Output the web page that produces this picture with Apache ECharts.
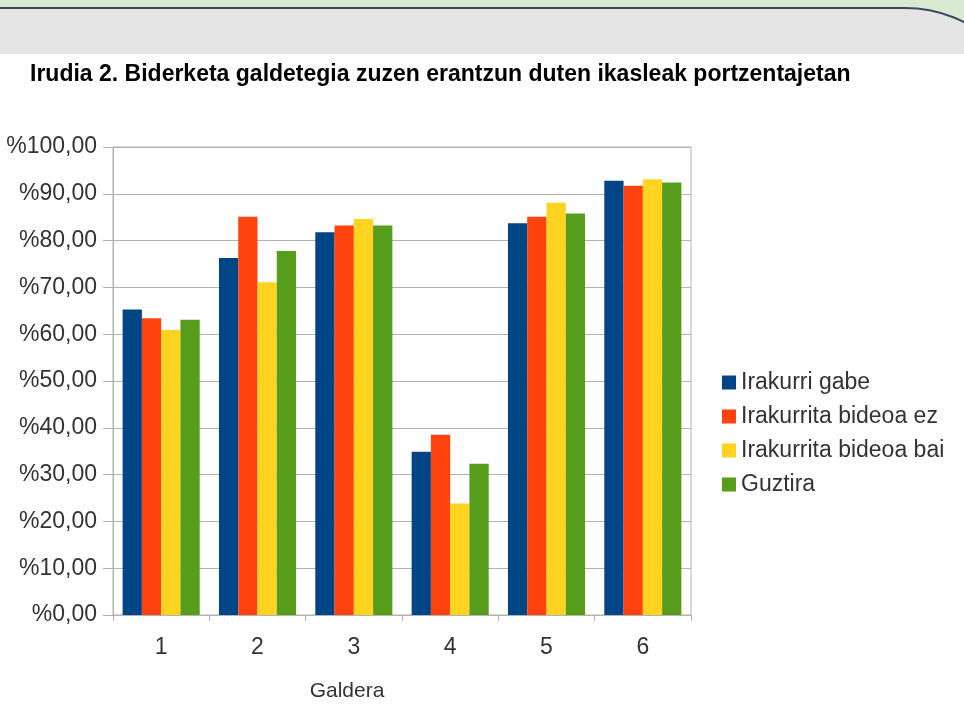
<!DOCTYPE html>
<html>
<head>
<meta charset="utf-8">
<script src="https://cdn.jsdelivr.net/npm/echarts@6/dist/echarts.min.js"></script>
<style>
  html, body { margin: 0; padding: 0; background: #fff; }
  #main { width: 964px; height: 707px; }
</style>
</head>
<body>
<div id="main"></div>
<script>
// galderak (x ardatza)
var categories = ['1', '2', '3', '4', '5', '6'];
var seriesNames = ['Irakurri gabe', 'Irakurrita bideoa ez', 'Irakurrita bideoa bai', 'Guztira'];
var irakurriGabe = [65.3, 76.3, 81.8, 34.9, 83.7, 92.8];
var bideoaEz = [63.4, 85.1, 83.2, 38.5, 85.1, 91.7];
var bideoaBai = [60.9, 71.1, 84.6, 23.8, 88.1, 93.1];
var guztira = [63.1, 77.8, 83.2, 32.3, 85.8, 92.4];
var colors = ['#004586', '#ff420e', '#ffd320', '#579d1c'];

var chart = echarts.init(document.getElementById('main'));
var font = '"Liberation Sans", Arial, sans-serif';

var values = [irakurriGabe, bideoaEz, bideoaBai, guztira];
var series = seriesNames.map(function (name, i) {
  return {
    name: name,
    type: 'bar',
    data: values[i],
    barGap: '0%',
    barCategoryGap: '20%',
    itemStyle: { color: colors[i] },
    animation: false
  };
});

var option = {
  animation: false,
  textStyle: { fontFamily: font },
  graphic: [
    // goiburuko bandak
    { type: 'rect', z: -10, shape: { x: 0, y: 0, width: 964, height: 56 }, style: { fill: '#d9ead3' } },
    { type: 'rect', z: -9, shape: { x: -5, y: 8, width: 1041, height: 300, r: [0, 131, 0, 0] },
      style: { fill: '#e5e5e5', stroke: '#3d4a5b', lineWidth: 2 } },
    { type: 'rect', z: -8, shape: { x: 0, y: 54, width: 964, height: 660 }, style: { fill: '#ffffff' } },
    { type: 'text', left: 30, top: 63,
      style: { text: 'Irudia 2. Biderketa galdetegia zuzen erantzun duten ikasleak portzentajetan',
        font: 'bold 23px ' + font, fill: '#000' } }
  ],
  color: colors,
  legend: {
    orient: 'vertical',
    left: 717,
    top: 366,
    icon: 'rect',
    itemWidth: 14,
    itemHeight: 14,
    itemGap: 11,
    textStyle: { fontSize: 23, color: '#333', fontFamily: font },
    data: seriesNames
  },
  grid: {
    left: 113, right: 273, top: 147, bottom: 90,
    show: true, borderColor: '#b3b3b3', borderWidth: 1
  },
  xAxis: {
    type: 'category',
    data: categories,
    name: 'Galdera',
    nameLocation: 'middle',
    nameGap: 66,
    nameTextStyle: { fontSize: 21, color: '#333', padding: [0, 110, 0, 0] },
    axisLine: { lineStyle: { color: '#b3b3b3' } },
    axisTick: { show: true, length: 6, lineStyle: { color: '#b3b3b3' } },
    axisLabel: { fontSize: 23, color: '#333', margin: 21 }
  },
  yAxis: {
    type: 'value',
    min: 0,
    max: 100,
    interval: 10,
    axisLine: { show: true, lineStyle: { color: '#b3b3b3' } },
    axisTick: { show: true, length: 10, lineStyle: { color: '#b3b3b3' } },
    splitLine: { lineStyle: { color: '#b3b3b3' } },
    axisLabel: {
      fontSize: 23, color: '#333', margin: 16,
      formatter: function (v) { return '%' + v.toFixed(2).replace('.', ','); }
    }
  },
  series: series
};
chart.setOption(option);
</script>
</body>
</html>
